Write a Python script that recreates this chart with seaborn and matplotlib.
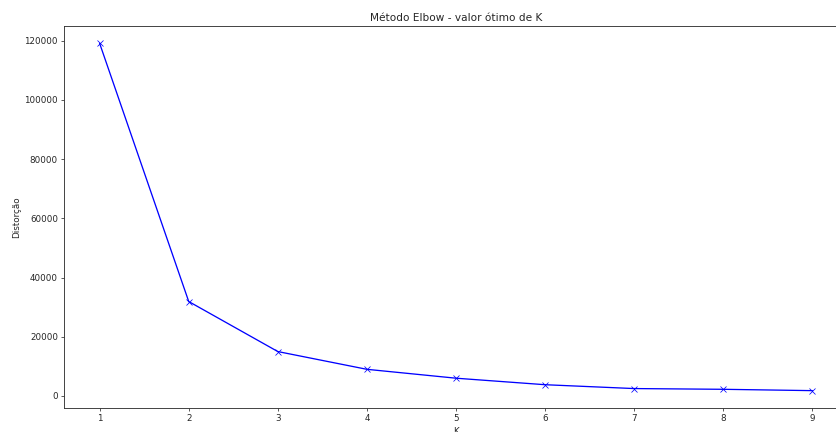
import matplotlib
matplotlib.use("Agg")
import matplotlib.pyplot as plt
import seaborn as sns
import pandas as pd

k_values = [1, 2, 3, 4, 5, 6, 7, 8, 9]
distortions = [119100, 31900, 15000, 9000, 6000, 3800, 2500, 2250, 1800]

sns.set_style("ticks")
plt.rcParams['font.family'] = ['DejaVu Sans']
plt.rcParams['font.size'] = 8.7

df = pd.DataFrame({"K": k_values, "Distorção": distortions})

fig = plt.figure(figsize=(836 / 72, 432 / 72), dpi=72)
ax = fig.add_axes([64 / 836, 24 / 432, 784 / 836, 382 / 432])
sns.lineplot(data=df, x="K", y="Distorção", ax=ax, color="blue", marker="x",
             markersize=5.5, markeredgecolor="blue", linewidth=1.3)
ax.set_title("Método Elbow - valor ótimo de K", fontsize=10.45, pad=5.2)
ax.set_xlabel("K", fontsize=8.7, labelpad=3.5)
ax.set_ylabel("Distorção", fontsize=8.7, labelpad=3.5)
ax.set_xticks(k_values)
for s in ax.spines.values():
    s.set_color("#333333")
    s.set_linewidth(0.9)
ax.tick_params(colors="#333333", labelcolor="#262626", labelsize=8.7,
               length=3, width=0.8, pad=3)

fig.savefig("out.png", dpi=72)
